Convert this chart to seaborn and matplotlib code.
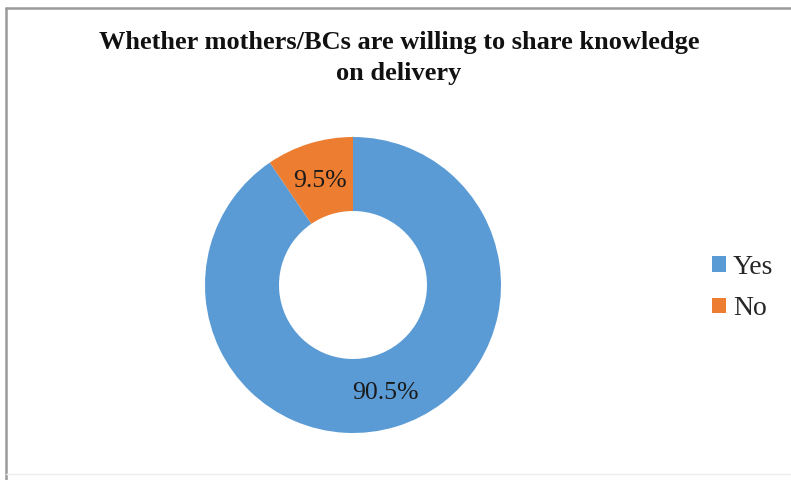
import matplotlib
matplotlib.use("Agg")
import matplotlib.pyplot as plt
from matplotlib.lines import Line2D
import numpy as np
import seaborn as sns

# Survey responses
categories = ["Yes", "No"]
shares = [90.5, 9.5]
slice_labels = ["90.5%", "9.5%"]
title_text = "Whether mothers/BCs are willing to share knowledge\non delivery"

sns.set_theme(style="white")
plt.rcParams["font.family"] = ["Liberation Serif", "DejaVu Serif"]

colors = ["#5B9BD5", "#ED7D31"]

fig = plt.figure(figsize=(7.91, 4.8), dpi=100)
fig.patch.set_facecolor("white")

ax = fig.add_axes([205 / 791, 47 / 480, 296 / 791, 296 / 480])
wedges, _ = ax.pie(
    shares,
    colors=colors,
    startangle=90,
    counterclock=False,
    radius=1.0,
    wedgeprops=dict(width=0.5, edgecolor="none"),
)
# Value labels at the middle of the ring
for w, lab in zip(wedges, slice_labels):
    mid = np.deg2rad((w.theta1 + w.theta2) / 2)
    ax.text(0.75 * np.cos(mid), 0.75 * np.sin(mid) - 0.015, lab,
            ha="center", va="center", fontsize=18.5, color="#1a1a1a")
ax.set_xlim(-1, 1)
ax.set_ylim(-1, 1)
ax.set_aspect("equal")
ax.axis("off")

fig.text(399 / 791, 1 - 58 / 480, title_text, ha="center", va="center",
         fontsize=19, fontweight="bold", linespacing=1.42, color="#111111")

fig.legend(wedges, categories, loc="center left",
           bbox_to_anchor=(712 / 791, 1 - 288 / 480),
           frameon=False, fontsize=20, handlelength=0.5, handleheight=0.5,
           handletextpad=0.25, labelspacing=0.6, borderpad=0, borderaxespad=0)

# Outer frame
fig.add_artist(Line2D([6 / 791, 6 / 791], [0, 1 - 7.5 / 480], color="#9a9a9a", lw=1.8))
fig.add_artist(Line2D([6 / 791, 1], [1 - 7.5 / 480, 1 - 7.5 / 480], color="#9a9a9a", lw=1.8))
fig.add_artist(Line2D([6 / 791, 1], [1 - 474 / 480, 1 - 474 / 480], color="#ececec", lw=1.0))

fig.savefig("out.png", dpi=100, facecolor="white")
